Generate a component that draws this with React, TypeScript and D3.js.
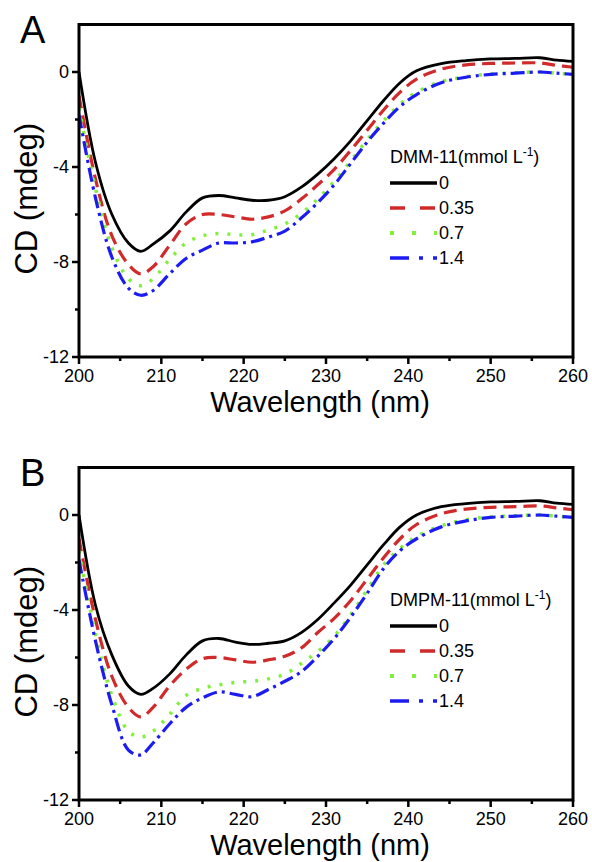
import React from "react";
import * as d3 from "d3";

// wavelength grid (nm) shared by all series
const wavelengths = [200, 202, 204, 206, 207.5, 209, 211, 213, 215, 217, 219, 221, 223, 225, 227, 229, 231, 233, 235, 237, 239, 241, 244, 247, 250, 253, 256, 258, 260];

const concLabels = ["0", "0.35", "0.7", "1.4"];

// panel A: DMM-11
const dmm0 = [0, -3.8, -6.0, -7.2, -7.55, -7.25, -6.7, -5.9, -5.3, -5.2, -5.3, -5.4, -5.4, -5.25, -4.85, -4.3, -3.65, -2.9, -2.05, -1.2, -0.45, 0.05, 0.35, 0.48, 0.55, 0.57, 0.6, 0.5, 0.45];
const dmm035 = [-1.0, -4.5, -6.9, -8.1, -8.5, -8.2, -7.3, -6.4, -6.0, -6.0, -6.1, -6.2, -6.1, -5.85, -5.35, -4.75, -4.1, -3.3, -2.45, -1.6, -0.85, -0.3, 0.12, 0.3, 0.36, 0.38, 0.38, 0.28, 0.2];
const dmm07 = [-1.5, -4.9, -7.4, -8.7, -9.0, -8.7, -7.9, -7.2, -6.9, -6.8, -6.85, -6.85, -6.65, -6.4, -5.95, -5.35, -4.6, -3.75, -2.85, -2.05, -1.35, -0.85, -0.4, -0.2, -0.08, -0.03, 0.0, -0.05, -0.1];
const dmm14 = [-1.8, -5.3, -7.8, -9.1, -9.4, -9.2, -8.5, -7.85, -7.5, -7.2, -7.2, -7.15, -6.95, -6.7, -6.15, -5.5, -4.75, -3.85, -2.95, -2.15, -1.45, -0.95, -0.45, -0.22, -0.1, -0.05, 0.0, -0.05, -0.1];

// panel B: DMPM-11
const dmpm0 = [0, -3.8, -5.9, -7.2, -7.55, -7.3, -6.7, -5.9, -5.3, -5.2, -5.35, -5.45, -5.4, -5.3, -4.95, -4.4, -3.7, -2.95, -2.1, -1.25, -0.5, 0.0, 0.35, 0.48, 0.55, 0.57, 0.6, 0.5, 0.45];
const dmpm035 = [-1.0, -4.4, -6.8, -8.1, -8.5, -8.1, -7.2, -6.5, -6.05, -6.0, -6.1, -6.2, -6.1, -5.95, -5.6, -4.95, -4.35, -3.6, -2.7, -1.8, -1.0, -0.4, 0.05, 0.25, 0.32, 0.35, 0.38, 0.3, 0.22];
const dmpm07 = [-1.5, -5.0, -7.6, -9.1, -9.35, -9.1, -8.4, -7.6, -7.3, -7.15, -7.05, -7.0, -6.9, -6.7, -6.25, -5.75, -5.1, -4.2, -3.15, -2.1, -1.4, -0.9, -0.45, -0.2, -0.08, -0.03, 0.0, -0.05, -0.1];
const dmpm14 = [-1.9, -5.3, -8.0, -9.9, -10.1, -9.6, -8.8, -8.1, -7.7, -7.45, -7.55, -7.65, -7.35, -7.0, -6.6, -5.95, -5.2, -4.3, -3.3, -2.25, -1.5, -1.0, -0.5, -0.25, -0.1, -0.05, 0.0, -0.05, -0.1];

const xMajor = [200, 210, 220, 230, 240, 250, 260];
const xMinor = [205, 215, 225, 235, 245, 255];
const yMajor = [0, -4, -8, -12];
const yMinor = [-2, -6, -10];

const styles = [
  { color: "#000000", dash: null, legendDash: null, width: 2.8 },
  { color: "#d02a2a", dash: "13,7", legendDash: "15,15", width: 3.2 },
  { color: "#80f03a", dash: "3,9", legendDash: "4,18", width: 3.5 },
  { color: "#1c1cf2", dash: "14,5,3,5", legendDash: "19,10,4,10", width: 3.2 },
];

const FONT = "'Liberation Sans', Arial, sans-serif";

const left = 79;
const right = 573;
const plotH = 332.5;

function Panel({ oy, letter, title, series }: { oy: number; letter: string; title: string; series: number[][] }) {
  const top = 24.5 + oy;
  const bottom = top + plotH;
  const x = d3.scaleLinear().domain([200, 260]).range([left, right]);
  const y = d3.scaleLinear().domain([-12, 2]).range([bottom, top]);
  const line = d3
    .line<number>()
    .x((_, i) => x(wavelengths[i]))
    .y((d) => y(d))
    .curve(d3.curveCatmullRom.alpha(0.5));

  const legX = 390;
  const legY = 163 + oy;

  return (
    <g>
      <text x={20} y={43 + oy} fontFamily={FONT} fontSize={38}>{letter}</text>

      <defs>
        <clipPath id={`clip-${letter}`}>
          <rect x={left} y={top} width={right - left} height={plotH} />
        </clipPath>
      </defs>

      <g clipPath={`url(#clip-${letter})`}>
        {series.map((s, i) => (
          <path
            key={i}
            d={line(s) || ""}
            fill="none"
            stroke={styles[i].color}
            strokeWidth={styles[i].width}
            strokeDasharray={styles[i].dash || undefined}
            strokeLinejoin="round"
          />
        ))}
      </g>

      {/* frame */}
      <rect x={left} y={top} width={right - left} height={plotH} fill="none" stroke="#000" strokeWidth={3} />

      {/* x ticks */}
      {xMajor.map((t) => (
        <g key={t}>
          <line x1={x(t)} x2={x(t)} y1={bottom} y2={bottom + 7} stroke="#000" strokeWidth={2.5} />
          <text x={x(t)} y={bottom + 25} textAnchor="middle" fontFamily={FONT} fontSize={18}>{t}</text>
        </g>
      ))}
      {xMinor.map((t) => (
        <line key={t} x1={x(t)} x2={x(t)} y1={bottom} y2={bottom + 4} stroke="#000" strokeWidth={2.5} />
      ))}

      {/* y ticks */}
      {yMajor.map((t) => (
        <g key={t}>
          <line x1={left - 7} x2={left} y1={y(t)} y2={y(t)} stroke="#000" strokeWidth={2.5} />
          <text x={left - 10} y={y(t)} dy="0.36em" textAnchor="end" fontFamily={FONT} fontSize={18}>{t}</text>
        </g>
      ))}
      {yMinor.map((t) => (
        <line key={t} x1={left - 4} x2={left} y1={y(t)} y2={y(t)} stroke="#000" strokeWidth={2.5} />
      ))}

      {/* axis titles */}
      <text x={(left + right) / 2 - 6} y={Math.min(bottom + 55, 855)} textAnchor="middle" fontFamily={FONT} fontSize={29}>
        Wavelength (nm)
      </text>
      <text
        transform={`translate(37, ${(top + bottom) / 2 + 8}) rotate(-90)`}
        textAnchor="middle"
        fontFamily={FONT}
        fontSize={31}
      >
        CD (mdeg)
      </text>

      {/* legend */}
      <text x={legX} y={legY} fontFamily={FONT} fontSize={18}>
        {title}(mmol L<tspan dy={-7} fontSize={12}>-1</tspan><tspan dy={7}>)</tspan>
      </text>
      {concLabels.map((c, i) => {
        const ry = legY + 20 + i * 25;
        return (
          <g key={c}>
            <line
              x1={legX}
              x2={legX + 47}
              y1={ry}
              y2={ry}
              stroke={styles[i].color}
              strokeWidth={styles[i].width + 0.5}
              strokeDasharray={styles[i].legendDash || undefined}
            />
            <text x={legX + 49} y={ry} dy="0.36em" fontFamily={FONT} fontSize={18}>{c}</text>
          </g>
        );
      })}
    </g>
  );
}

export default function App() {
  return (
    <svg
      width={592}
      height={862}
      viewBox="0 0 592 862"
      style={{ position: "absolute", left: 0, top: 0, background: "#fff" }}
    >
      <rect width={592} height={862} fill="#fff" />
      <Panel oy={0} letter="A" title="DMM-11" series={[dmm0, dmm035, dmm07, dmm14]} />
      <Panel oy={443} letter="B" title="DMPM-11" series={[dmpm0, dmpm035, dmpm07, dmpm14]} />
    </svg>
  );
}
